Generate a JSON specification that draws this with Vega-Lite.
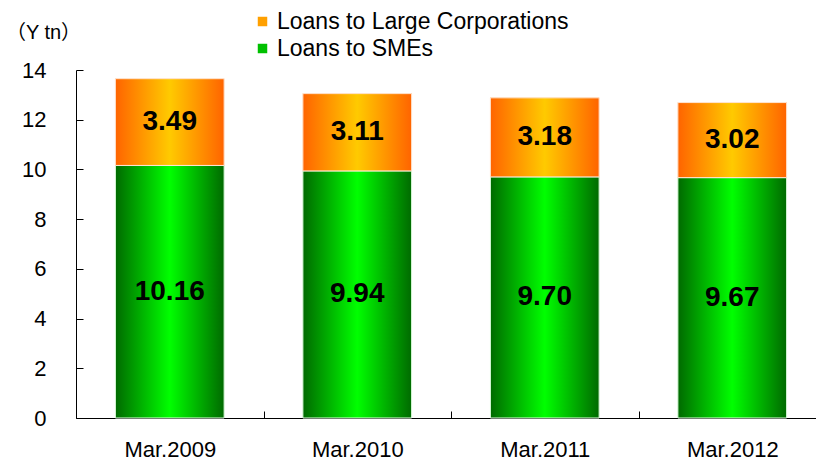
{
  "$schema": "https://vega.github.io/schema/vega-lite/v6.json",
  "width": 750,
  "height": 348,
  "autosize": {"type": "none"},
  "padding": {"left": 76, "top": 70, "right": 0, "bottom": 43},
  "background": "white",
  "config": {
    "view": {"stroke": null},
    "font": "Liberation Sans",
    "axis": {"labelFont": "Liberation Sans", "labelColor": "black", "domainColor": "black", "tickColor": "black", "grid": false, "ticks": true}
  },
  "data": {
    "values": [
      {"date": "Mar.2009", "series": "Loans to SMEs", "value": 10.16},
      {"date": "Mar.2009", "series": "Loans to Large Corporations", "value": 3.49},
      {"date": "Mar.2010", "series": "Loans to SMEs", "value": 9.94},
      {"date": "Mar.2010", "series": "Loans to Large Corporations", "value": 3.11},
      {"date": "Mar.2011", "series": "Loans to SMEs", "value": 9.70},
      {"date": "Mar.2011", "series": "Loans to Large Corporations", "value": 3.18},
      {"date": "Mar.2012", "series": "Loans to SMEs", "value": 9.67},
      {"date": "Mar.2012", "series": "Loans to Large Corporations", "value": 3.02}
    ]
  },
  "transform": [
    {"stack": "value", "groupby": ["date"], "sort": [{"field": "series", "order": "descending"}], "as": ["y0", "y1"]},
    {"calculate": "(datum.y0 + datum.y1) / 2", "as": "mid"}
  ],
  "encoding": {
    "x": {
      "field": "date", "type": "nominal", "sort": null,
      "scale": {"paddingInner": 0, "paddingOuter": 0},
      "axis": {"title": null, "labelAngle": 0, "labelFontSize": 22, "labelPadding": 28, "tickBand": "extent", "tickSize": -7, "tickWidth": 1, "domainWidth": 1}
    }
  },
  "layer": [
    {
      "mark": {"type": "bar", "width": {"band": 0.58}},
      "encoding": {
        "y": {
          "field": "y1", "type": "quantitative",
          "scale": {"domain": [0, 14], "nice": false},
          "axis": {
            "values": [0, 2, 4, 6, 8, 10, 12, 14],
            "title": "（Y tn）", "titleAngle": 0, "titleX": -33, "titleY": -38,
            "titleAlign": "center", "titleBaseline": "middle", "titleFontSize": 20, "titleFontWeight": "normal",
            "titleFont": "Liberation Sans, Noto Sans CJK JP",
            "labelFontSize": 22, "labelPadding": 37, "tickSize": -7, "tickWidth": 1
          }
        },
        "y2": {"field": "y0"},
        "color": {
          "field": "series", "type": "nominal",
          "scale": {"domain": ["Loans to Large Corporations", "Loans to SMEs"], "range": ["#ffa000", "#00c000"]},
          "legend": {
            "title": null, "orient": "none", "legendX": 175, "legendY": -60,
            "symbolType": "square", "symbolSize": 90, "labelFontSize": 23, "labelFont": "Liberation Sans",
            "labelOffset": 3, "rowPadding": 3, "padding": 0, "symbolStrokeWidth": 0, "labelLimit": 0
          }
        }
      }
    },
    {
      "transform": [{"filter": "datum.series === 'Loans to SMEs'"}],
      "mark": {
        "type": "bar", "width": {"band": 0.58}, "stroke": "#e8ffe8", "strokeWidth": 1,
        "fill": {"gradient": "linear", "x1": 0, "y1": 0, "x2": 1, "y2": 0,
          "stops": [{"offset": 0, "color": "#006a00"}, {"offset": 0.5, "color": "#00ff00"}, {"offset": 1, "color": "#006a00"}]}
      },
      "encoding": {
        "y": {"field": "y1", "type": "quantitative"},
        "y2": {"field": "y0"}
      }
    },
    {
      "transform": [{"filter": "datum.series === 'Loans to Large Corporations'"}],
      "mark": {
        "type": "bar", "width": {"band": 0.58}, "stroke": "#ffe6d6", "strokeWidth": 1,
        "fill": {"gradient": "linear", "x1": 0, "y1": 0, "x2": 1, "y2": 0,
          "stops": [{"offset": 0, "color": "#ff6400"}, {"offset": 0.5, "color": "#ffca00"}, {"offset": 1, "color": "#ff6400"}]}
      },
      "encoding": {
        "y": {"field": "y1", "type": "quantitative"},
        "y2": {"field": "y0"}
      }
    },
    {
      "mark": {"type": "text", "fontSize": 28, "fontWeight": "bold", "font": "Liberation Sans", "color": "black", "baseline": "middle"},
      "encoding": {
        "y": {"field": "mid", "type": "quantitative"},
        "text": {"field": "value", "type": "quantitative", "format": ".2f"}
      }
    }
  ]
}
